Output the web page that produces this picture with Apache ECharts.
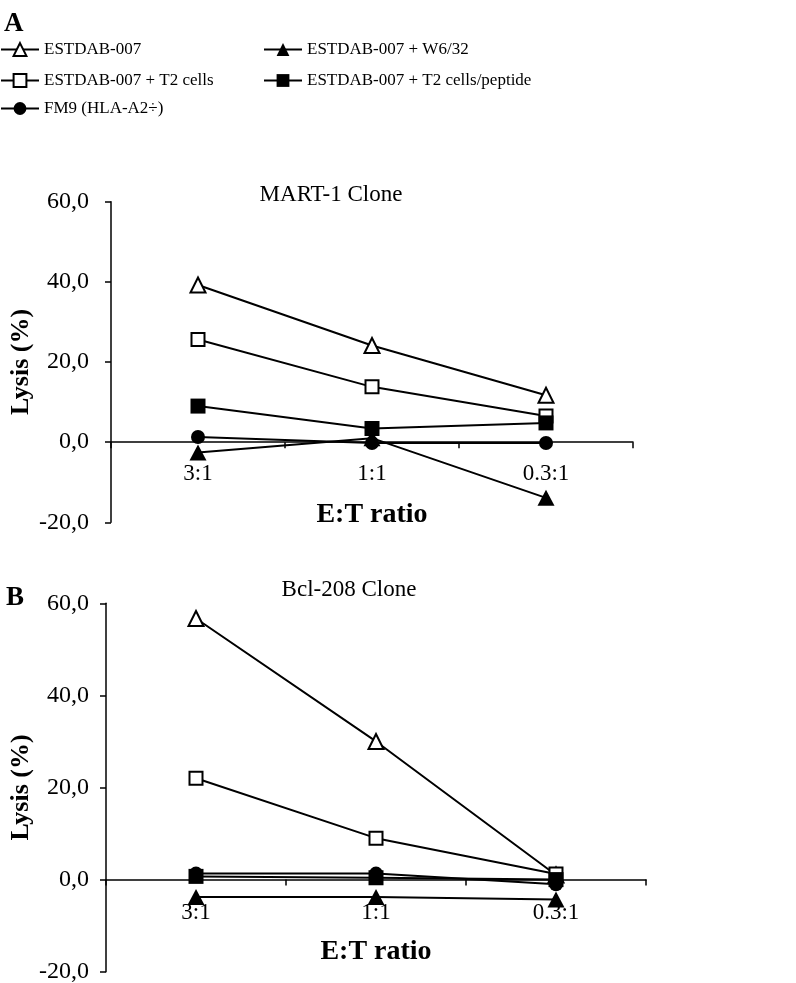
<!DOCTYPE html>
<html>
<head>
<meta charset="utf-8">
<script src="https://cdn.jsdelivr.net/npm/echarts@6/dist/echarts.min.js"></script>
<style>
  html, body { margin: 0; padding: 0; background: #fff; }
  #chart { width: 796px; height: 983px; }
</style>
</head>
<body>
<div id="chart"></div>
<script>
// ---- Data ----
const categories = ['3:1', '1:1', '0.3:1'];
const seriesNames = ['ESTDAB-007', 'ESTDAB-007 + W6/32', 'ESTDAB-007 + T2 cells', 'ESTDAB-007 + T2 cells/peptide', 'FM9 (HLA-A2÷)'];
const yTicks = [-20, 0, 20, 40, 60];
const panelTitles = ['MART-1 Clone', 'Bcl-208 Clone'];
const panelLetters = ['A', 'B'];

// Panel A: MART-1 Clone
const martEstdab = [39.2, 24.1, 11.7];
const martW632 = [-2.6, 1.0, -13.9];
const martT2 = [25.6, 13.8, 6.5];
const martT2Pep = [9.0, 3.4, 4.8];
const martFM9 = [1.3, -0.2, -0.2];

// Panel B: Bcl-208 Clone
const bclEstdab = [56.7, 30.0, 1.0];
const bclW632 = [-3.8, -3.8, -4.3];
const bclT2 = [22.0, 9.0, 1.2];
const bclT2Pep = [0.7, 0.4, 0.0];
const bclFM9 = [1.3, 1.3, -1.0];

const panelData = [
  [martEstdab, martW632, martT2, martT2Pep, martFM9],
  [bclEstdab, bclW632, bclT2, bclT2Pep, bclFM9]
];

// ---- Styles ----
const FONT = "'Liberation Serif', 'Times New Roman', serif";
const markerStyles = [
  { symbol: 'triangle', size: 15, fill: '#fff', border: 2 },
  { symbol: 'triangle', size: [17, 16], fill: '#000', border: 0 },
  { symbol: 'rect', size: 13, fill: '#fff', border: 2 },
  { symbol: 'rect', size: 15, fill: '#000', border: 0 },
  { symbol: 'circle', size: 14, fill: '#000', border: 0 }
];

const grids = [
  { left: 111, top: 201.7, width: 522, height: 320.6, outerBoundsMode: 'none', containLabel: false },
  { left: 106, top: 603.3, width: 540, height: 368.4, outerBoundsMode: 'none', containLabel: false }
];
// labels / names are placed relative to the grid bottom (axis line itself sits on zero)
const xLabelMargins = [-60, -70];
const xNameGaps = [-22, -34];
const yNameGaps = [77, 72];
const yLabelMargins = [22, 17];

const xAxes = grids.map((g, i) => ({
  type: 'category',
  gridIndex: i,
  data: categories,
  boundaryGap: true,
  axisLine: { onZero: true, lineStyle: { color: '#000', width: 1.5 } },
  axisTick: { show: true, length: 6, lineStyle: { color: '#000', width: 1.5 } },
  axisLabel: { margin: xLabelMargins[i], fontSize: 23, fontFamily: FONT, color: '#000' },
  splitLine: { show: false },
  name: 'E:T ratio',
  nameLocation: 'middle',
  nameGap: xNameGaps[i],
  nameMoveOverlap: false,
  nameTextStyle: { fontFamily: FONT, fontSize: 28, fontWeight: 'bold', color: '#000' }
}));

const yAxes = grids.map((g, i) => ({
  type: 'value',
  gridIndex: i,
  min: yTicks[0],
  max: yTicks[yTicks.length - 1],
  interval: yTicks[1] - yTicks[0],
  axisLine: { show: true, onZero: false, lineStyle: { color: '#000', width: 1.5 } },
  axisTick: { show: true, length: 6, lineStyle: { color: '#000', width: 1.5 } },
  axisLabel: {
    margin: yLabelMargins[i], fontSize: 24, fontFamily: FONT, color: '#000',
    formatter: v => v.toFixed(1).replace('.', ',')
  },
  splitLine: { show: false },
  name: 'Lysis (%)',
  nameLocation: 'middle',
  nameRotate: 90,
  nameGap: yNameGaps[i],
  nameMoveOverlap: false,
  nameTextStyle: { fontFamily: FONT, fontSize: 26, fontWeight: 'bold', color: '#000' }
}));

const series = [];
panelData.forEach((sets, p) => {
  sets.forEach((vals, k) => {
    const m = markerStyles[k];
    series.push({
      name: seriesNames[k],
      type: 'line',
      xAxisIndex: p,
      yAxisIndex: p,
      data: vals,
      symbol: m.symbol,
      symbolSize: m.size,
      showAllSymbol: true,
      lineStyle: { color: '#000', width: 2 },
      itemStyle: { color: m.fill, borderColor: '#000', borderWidth: m.border, opacity: 1 },
      emphasis: { disabled: true },
      z: 2 + k
    });
  });
});

const legendCommon = {
  padding: 0,
  itemWidth: 38,
  itemHeight: 16,
  itemGap: 0,
  textStyle: { fontFamily: FONT, fontSize: 17, color: '#000', lineHeight: 16 }
};
const legendPos = [
  { left: 0, top: 41 },
  { left: 263, top: 41 },
  { left: 0, top: 72 },
  { left: 263, top: 72 },
  { left: 0, top: 100 }
];
const legends = seriesNames.map((n, i) => Object.assign({}, legendCommon, legendPos[i], { data: [n] }));

const titles = [
  { text: panelLetters[0], left: 4, top: 11, textStyle: { fontFamily: FONT, fontSize: 27, fontWeight: 'bold', color: '#000' }, padding: 0 },
  { text: panelLetters[1], left: 6, top: 585, textStyle: { fontFamily: FONT, fontSize: 27, fontWeight: 'bold', color: '#000' }, padding: 0 },
  { text: panelTitles[0], left: 331, top: 183, textAlign: 'center', textStyle: { fontFamily: FONT, fontSize: 23, fontWeight: 'normal', color: '#000' }, padding: 0 },
  { text: panelTitles[1], left: 349, top: 578, textAlign: 'center', textStyle: { fontFamily: FONT, fontSize: 23, fontWeight: 'normal', color: '#000' }, padding: 0 }
];

const chart = echarts.init(document.getElementById('chart'), null, { renderer: 'canvas' });
chart.setOption({
  backgroundColor: '#fff',
  animation: false,
  title: titles,
  legend: legends,
  grid: grids,
  xAxis: xAxes,
  yAxis: yAxes,
  series: series
});
</script>
</body>
</html>
